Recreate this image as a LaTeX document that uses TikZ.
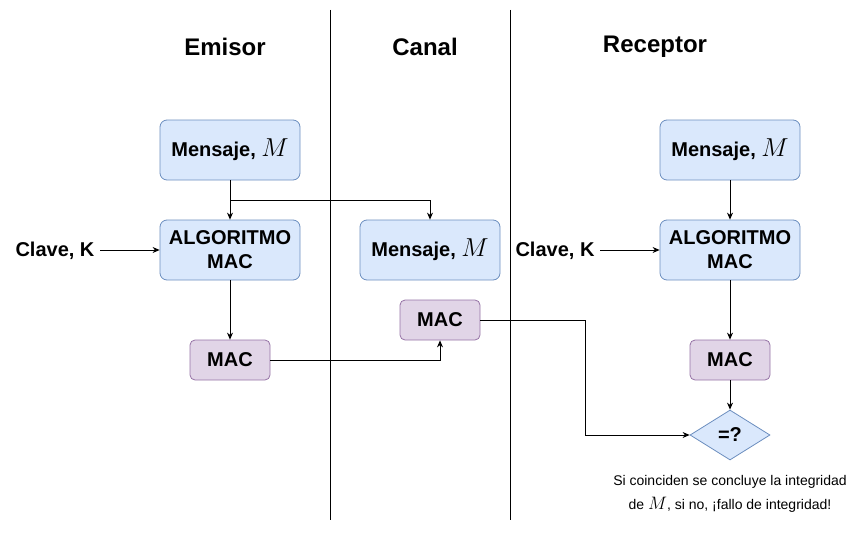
\documentclass[tikz,border=0pt]{standalone}
\usepackage{fontspec}
\setmainfont{Liberation Sans}
\usetikzlibrary{arrows.meta,shapes.geometric}
\definecolor{bluefill}{HTML}{DAE8FC}
\definecolor{bluedraw}{HTML}{6C8EBF}
\definecolor{purfill}{HTML}{E1D5E7}
\definecolor{purdraw}{HTML}{9673A6}
\newcommand{\bigM}{\scalebox{1.25}{$M$}}
\tikzset{
  bluebox/.style={draw=bluedraw, fill=bluefill, rounded corners=7pt, minimum width=140pt, minimum height=60pt, inner sep=0pt, align=center, font=\fontsize{20}{24}\selectfont\bfseries, line width=0.8pt},
  macbox/.style={draw=purdraw, fill=purfill, rounded corners=5pt, minimum width=80pt, minimum height=40pt, inner sep=0pt, align=center, font=\fontsize{20}{24}\selectfont\bfseries, line width=0.8pt},
  decbox/.style={diamond, draw=bluedraw, fill=bluefill, minimum width=80pt, minimum height=50pt, inner sep=0pt, aspect=1.6, font=\fontsize{20}{24}\selectfont\bfseries, line width=0.8pt},
  header/.style={font=\fontsize{24}{28}\selectfont\bfseries},
  keylabel/.style={font=\fontsize{20}{24}\selectfont\bfseries},
  caption/.style={font=\fontsize{14}{24}\selectfont, align=center},
  conn/.style={line width=0.8pt, -{Stealth[length=7pt,width=6pt]}},
  divider/.style={line width=0.8pt}
}
\begin{document}
\begin{tikzpicture}[x=1pt,y=-1pt]
\useasboundingbox (0,0) rectangle (861,551);
% dividers
\coordinate (d1t) at (330,10); \coordinate (d1b) at (330,520);
\coordinate (d2t) at (510,10); \coordinate (d2b) at (510,520);
\draw[divider] (d1t) -- (d1b);
\draw[divider] (d2t) -- (d2b);
% headers
\node[header] (hE) at (225,47) {Emisor};
\node[header] (hC) at (425,47) {Canal};
\node[header] (hR) at (655,47) {Receptor};
% emisor
\node[bluebox] (m1) at (230,150) {Mensaje, \bigM};
\node[bluebox] (a1) at (230,250) {ALGORITMO\\MAC};
\node[keylabel] (k1) at (55,251) {Clave, K};
\node[macbox] (mac1) at (230,360) {MAC};
% canal
\node[bluebox] (m2) at (430,250) {Mensaje, \bigM};
\node[macbox] (mac2) at (440,320) {MAC};
% receptor
\node[bluebox] (m3) at (730,150) {Mensaje, \bigM};
\node[bluebox] (a3) at (730,250) {ALGORITMO\\MAC};
\node[keylabel] (k3) at (555,251) {Clave, K};
\node[macbox] (mac3) at (730,360) {MAC};
\node[decbox] (eq) at (730,435) {=?};
\node[caption] (cap) at (730,494) {Si coinciden se concluye la integridad\\de \bigM, si no, ¡fallo de integridad!};
% connectors
\coordinate (k1e) at (100,250);
\coordinate (k3e) at (600,250);
\coordinate (split) at (230,200);
\coordinate (turn) at (585,320);
\draw[conn] (m1.south) -- (a1.north);
\draw[conn] (split) -| (m2.north);
\draw[conn] (k1e) -- (a1.west);
\draw[conn] (a1.south) -- (mac1.north);
\draw[conn] (mac1.east) -| (mac2.south);
\draw[conn] (mac2.east) -- (turn) |- (eq.west);
\draw[conn] (m3.south) -- (a3.north);
\draw[conn] (k3e) -- (a3.west);
\draw[conn] (a3.south) -- (mac3.north);
\draw[conn] (mac3.south) -- (eq.north);
\end{tikzpicture}
\end{document}
